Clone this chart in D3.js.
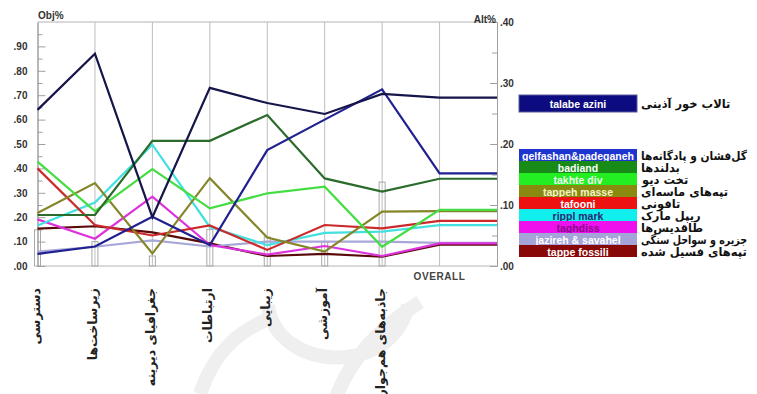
<!DOCTYPE html>
<html>
<head>
<meta charset="utf-8">
<script src="https://cdn.jsdelivr.net/npm/d3@7"></script>
<style>
  html, body { margin: 0; padding: 0; background: #fff; }
  svg { display: block; font-family: "Liberation Sans", Arial, sans-serif; }
</style>
</head>
<body>
<svg id="chart" width="757" height="394"></svg>
<script>
// Criteria (left side) and their weights
const criteria = ["دسترسی", "زیرساخت‌ها", "جغرافیای دیرینه", "ارتباطات", "زیبایی", "آموزشی", "جاذبه‌های هم‌جوار"];
const weights = [0.148, 0.10, 0.041, 0.15, 0.119, 0.10, 0.344];

// Alternatives: codes, Persian names, colours
const altCodes = ["talabe azini", "gelfashan&padeganeh", "badiand", "takhte div", "tappeh masse", "tafooni", "rippl mark", "taghdiss", "jazireh & savahel", "tappe fossili"];
const altNames = ["تالاب خور آذینی", "گل‌فشان و پادگانه‌ها", "بدلندها", "تخت دیو", "تپه‌های ماسه‌ای", "تافونی", "ریپل مارک", "طاقدیس‌ها", "جزیره و سواحل سنگی", "تپه‌های فسیل شده"];
const lineColors = ["#15154a", "#202090", "#2b6b2b", "#44dd44", "#85852a", "#cc2a2a", "#44e0e0", "#dd33dd", "#a8a8d8", "#5a0808"];
const boxColors = ["#0c0c80", "#1f35d0", "#178a17", "#22ee22", "#8a8a10", "#ee1111", "#11eeee", "#ee11ee", "#a4a4d8", "#880808"];
const boxText = ["#ffffff", "#ffffff", "#ffffff", "#f0fff0", "#f4f4c8", "#ffffff", "#2a2a70", "#8a0a8a", "#ffffff", "#ffffff"];

// Priority of each alternative under each criterion (Obj%)
const talabeAzini   = [0.640, 0.870, 0.200, 0.730, 0.668, 0.623, 0.705];
const gelfashan     = [0.050, 0.080, 0.202, 0.086, 0.475, 0.600, 0.724];
const badiand       = [0.209, 0.209, 0.513, 0.513, 0.619, 0.359, 0.305];
const takhteDiv     = [0.428, 0.225, 0.397, 0.236, 0.298, 0.325, 0.079];
const tappehMasse   = [0.217, 0.340, 0.051, 0.360, 0.117, 0.059, 0.223];
const tafooni       = [0.400, 0.168, 0.125, 0.166, 0.066, 0.168, 0.154];
const ripplMark     = [0.166, 0.260, 0.497, 0.160, 0.086, 0.136, 0.141];
const taghdiss      = [0.191, 0.112, 0.284, 0.086, 0.047, 0.082, 0.041];
const jazireh       = [0.059, 0.079, 0.105, 0.080, 0.100, 0.100, 0.100];
const tappeFossili  = [0.153, 0.163, 0.138, 0.093, 0.041, 0.050, 0.038];

// Overall priority of each alternative (Alt%)
const overall = [0.276, 0.152, 0.143, 0.092, 0.090, 0.074, 0.067, 0.037, 0.038, 0.035];

// Axis ticks
const leftTicks = [0, .1, .2, .3, .4, .5, .6, .7, .8, .9];
const leftMinor = [.05, .15, .25, .35, .45, .55, .65, .75, .85, .95];
const rightTicks = [0, .1, .2, .3, .4];
const rightMinor = [.05, .15, .25, .35];

const series = [talabeAzini, gelfashan, badiand, takhteDiv, tappehMasse, tafooni, ripplMark, taghdiss, jazireh, tappeFossili];

const svg = d3.select("#chart");
const L = 37.5, R = 497, T = 22, B = 266;

const x = d3.scaleLinear().domain([0, criteria.length + 1]).range([L, R]);
const yL = d3.scaleLinear().domain([0, 1]).range([B, T]);
const yR = d3.scaleLinear().domain([0, 0.4]).range([B, T]);
const fmt = v => d3.format(".2f")(v).replace(/^0/, "");

// faint background emblem
const wm = svg.append("g").attr("fill", "none").attr("stroke", "#efefef").attr("stroke-width", 14);
wm.append("path").attr("d", "M268,305 C276,372 392,378 408,305");
wm.append("path").attr("d", "M335,400 C352,352 388,322 420,302");
wm.append("path").attr("d", "M200,394 C214,352 238,332 266,320");

// frame
svg.append("line").attr("x1", L).attr("x2", R).attr("y1", T).attr("y2", T).attr("stroke", "#b4b4b4");
svg.append("line").attr("x1", L).attr("x2", R).attr("y1", B).attr("y2", B).attr("stroke", "#b4b4b4");

// vertical criterion lines and the OVERALL line
svg.append("g").selectAll("line").data(d3.range(1, criteria.length + 1)).join("line")
  .attr("x1", d => x(d)).attr("x2", d => x(d)).attr("y1", T).attr("y2", B)
  .attr("stroke", "#bdbdbd").attr("stroke-width", 1);

// criterion weight boxes
svg.append("g").selectAll("rect").data(weights).join("rect")
  .attr("x", (d, i) => x(i) - 3).attr("width", 6)
  .attr("y", d => yL(d)).attr("height", d => B - yL(d))
  .attr("fill", "none").attr("stroke", "#a8a8a8").attr("stroke-width", 1);

// axes
const axL = svg.append("g").attr("transform", `translate(${L},0)`)
  .call(d3.axisLeft(yL).tickValues(leftTicks).tickFormat(fmt).tickSizeInner(-8).tickSizeOuter(0).tickPadding(10));
const axLm = svg.append("g").attr("transform", `translate(${L},0)`)
  .call(d3.axisLeft(yL).tickValues(leftMinor).tickFormat("").tickSizeInner(-5).tickSizeOuter(0));
const axR = svg.append("g").attr("transform", `translate(${R},0)`)
  .call(d3.axisRight(yR).tickValues(rightTicks).tickFormat(fmt).tickSizeInner(-7).tickSizeOuter(0).tickPadding(3));
const axRm = svg.append("g").attr("transform", `translate(${R},0)`)
  .call(d3.axisRight(yR).tickValues(rightMinor).tickFormat("").tickSizeInner(-5).tickSizeOuter(0));
[axL, axLm, axR, axRm].forEach(g => {
  g.select(".domain").attr("stroke", "#a0a0a0");
  g.selectAll(".tick line").attr("stroke", "#a0a0a0");
  g.selectAll("text").attr("font-size", 10).attr("font-weight", "bold").attr("fill", "#333")
    .attr("font-family", "'Liberation Sans', Arial, sans-serif");
});

svg.append("text").attr("x", 38).attr("y", 19).text("Obj%")
  .attr("font-size", 10).attr("font-weight", "bold").attr("fill", "#333");
svg.append("text").attr("x", 496).attr("y", 23).attr("text-anchor", "end").text("Alt%")
  .attr("font-size", 10).attr("font-weight", "bold").attr("fill", "#333");
svg.append("text").attr("x", x(criteria.length)).attr("y", 280).attr("text-anchor", "middle")
  .text("OVERALL").attr("font-size", 10).attr("font-weight", "bold").attr("fill", "#444").attr("letter-spacing", 0.6);

// sensitivity lines: criterion priorities on Obj%, overall priority on Alt%
const line = d3.line().x(d => d[0]).y(d => d[1]);
const paths = series.map((vals, k) => {
  const pts = vals.map((v, i) => [x(i), yL(v)]);
  pts.push([x(vals.length), yR(overall[k])]);
  pts.push([x(vals.length + 1), yR(overall[k])]);
  return pts;
});
svg.append("g").attr("fill", "none").selectAll("path")
  .data(paths.map((p, k) => ({ p, k })).reverse()).join("path")
  .attr("d", d => line(d.p))
  .attr("stroke", d => lineColors[d.k]).attr("stroke-width", 2.2)
  .attr("stroke-linejoin", "miter");

// criterion labels, rotated
svg.append("g").selectAll("text").data(criteria).join("text")
  .attr("transform", (d, i) => `translate(${x(i) - 2},288) rotate(-90)`)
  .attr("text-anchor", "end").attr("dominant-baseline", "central")
  .attr("font-family", "'DejaVu Sans', sans-serif")
  .attr("font-size", 12.5).attr("font-weight", "bold").attr("fill", "#222")
  .text(d => d);

// legend
const boxX = 519, boxW = 118, rowH = 12, nameX = 641, nameMaxW = 106;
const legendY = (k) => k === 0 ? 95 : 149 + (k - 1) * rowH;
const legendH = (k) => k === 0 ? 17 : rowH;
const lg = svg.append("g");
altCodes.forEach((code, k) => {
  lg.append("rect").attr("x", boxX).attr("y", legendY(k)).attr("width", boxW).attr("height", legendH(k))
    .attr("fill", boxColors[k]).attr("stroke", k === 0 ? "#5a5a9a" : "none").attr("stroke-width", 1);
  lg.append("text").attr("x", boxX + boxW / 2).attr("y", legendY(k) + legendH(k) / 2 + 0.5)
    .attr("text-anchor", "middle").attr("dominant-baseline", "central")
    .attr("font-size", 10.5).attr("font-weight", "bold").attr("fill", boxText[k])
    .text(code);
  const t = lg.append("text").attr("x", 0).attr("y", legendY(k) + legendH(k) / 2 + (k === 0 ? 0 : 1))
    .attr("dominant-baseline", "central")
    .attr("font-family", "'DejaVu Sans', sans-serif")
    .attr("font-size", 11.5).attr("font-weight", "bold").attr("fill", "#111")
    .text(altNames[k]);
  // keep the Persian label inside the page, its left edge just right of the box
  let bb = t.node().getBBox();
  if (bb.width > nameMaxW) {
    t.attr("textLength", nameMaxW).attr("lengthAdjust", "spacingAndGlyphs");
    bb = t.node().getBBox();
  }
  t.attr("x", nameX - bb.x);
});
</script>
</body>
</html>
